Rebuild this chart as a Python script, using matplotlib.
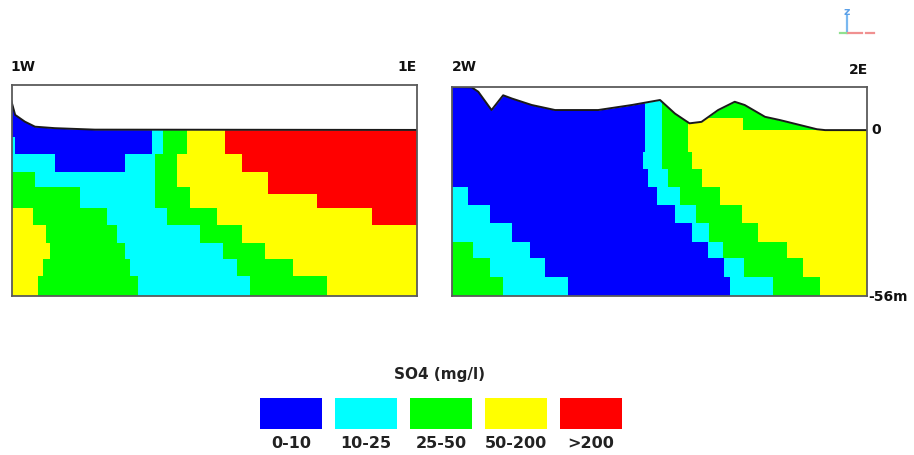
import matplotlib
matplotlib.use("Agg")
import numpy as np
import matplotlib.pyplot as plt
from matplotlib.colors import ListedColormap
from matplotlib.patches import Rectangle

# SO4 concentration classes (mg/l)
class_labels = ["0-10", "10-25", "25-50", "50-200", ">200"]
class_colors = ["#0000ff", "#00ffff", "#00ff00", "#ffff00", "#ff0000"]

# ---- Section 1W-1E : layer elevations (m), class runs per layer, run ends (% of section)
s1_levels = [15.2, -2.3, -8.0, -14.2, -19.3, -21.5, -26.4, -32.2, -38.4, -43.7, -49.4, -56.0]
s1_classes = [
    [0, 1, 2, 3, 4],
    [1, 0, 1, 2, 3, 4],
    [1, 0, 1, 2, 3, 4],
    [2, 1, 2, 3, 4],
    [2, 1, 2, 3, 4],
    [2, 1, 2, 3, 4],
    [3, 2, 1, 2, 3, 4],
    [3, 2, 1, 2, 3],
    [3, 2, 1, 2, 3],
    [3, 2, 1, 2, 3],
    [3, 2, 1, 2, 3],
]
s1_breaks = [
    [34.6, 37.5, 43.3, 52.7],
    [0.9, 34.6, 37.5, 43.3, 52.7],
    [10.7, 28.0, 35.4, 40.8, 56.8],
    [5.8, 35.4, 40.8, 63.4],
    [16.9, 35.4, 44.1, 63.4],
    [16.9, 35.4, 44.1, 75.4],
    [5.2, 23.5, 38.3, 50.7, 88.9],
    [8.5, 26.0, 46.6, 56.8],
    [9.5, 28.0, 52.1, 62.6],
    [7.9, 29.3, 55.6, 69.6],
    [6.6, 31.3, 58.9, 77.8],
]
s1_surface_x = [0, 0.9, 3.3, 5.8, 10.7, 20.6, 100]
s1_surface_z = [9.6, 5.1, 2.8, 1.1, 0.6, 0.1, 0.0]

# ---- Section 2W-2E
s2_levels = [14.6, 4.0, 0.0, -7.3, -13.0, -19.2, -25.4, -31.6, -37.8, -43.4, -49.6, -56.0]
s2_classes = [
    [0, 1, 2],
    [0, 1, 2, 3, 2],
    [0, 1, 2, 3],
    [0, 1, 2, 3],
    [0, 1, 2, 3],
    [1, 0, 1, 2, 3],
    [1, 0, 1, 2, 3],
    [1, 0, 1, 2, 3],
    [2, 1, 0, 1, 2, 3],
    [2, 1, 0, 1, 2, 3],
    [2, 1, 0, 1, 2, 3],
]
s2_breaks = [
    [46.6, 50.6],
    [46.6, 50.6, 57.0, 70.3],
    [46.6, 50.6, 57.0],
    [46.2, 50.6, 57.8],
    [47.4, 52.2, 60.2],
    [3.9, 49.4, 55.0, 64.7],
    [9.2, 53.8, 58.9, 69.9],
    [14.5, 57.8, 62.0, 73.9],
    [5.2, 18.9, 61.8, 65.4, 80.7],
    [9.2, 22.5, 65.6, 70.4, 84.7],
    [12.4, 28.1, 67.1, 77.5, 88.7],
]
s2_surface_x = [0, 4.8, 6.4, 9.6, 12.4, 14.5, 19.3, 24.9, 35.3, 43.4, 50.2,
                53.8, 57.3, 60.2, 64.2, 68.2, 70.6, 75.5, 79.1, 88.0, 90.0, 100]
s2_surface_z = [14.6, 14.5, 13.0, 6.8, 11.8, 10.7, 8.5, 6.8, 6.8, 8.5, 10.2,
                5.6, 2.3, 2.8, 6.8, 9.6, 8.5, 4.5, 3.4, 0.3, 0.0, 0.0]

cmap = ListedColormap(class_colors)


def class_grid(levels, classes, breaks):
    xedges = np.unique(np.concatenate([[0.0, 100.0]] + [np.asarray(b, float) for b in breaks]))
    centers = 0.5 * (xedges[:-1] + xedges[1:])
    grid = np.zeros((len(classes), len(centers)))
    for r, (cls, brk) in enumerate(zip(classes, breaks)):
        idx = np.searchsorted(np.asarray(brk, float), centers)
        grid[r] = np.asarray(cls)[idx]
    return xedges, np.asarray(levels, float), grid


def draw_section(ax, levels, classes, breaks, sx, sz):
    xe, ye, g = class_grid(levels, classes, breaks)
    ax.pcolormesh(xe, ye, g, cmap=cmap, vmin=-0.5, vmax=4.5,
                  shading="flat", antialiased=False, zorder=1)
    top = levels[0]
    ax.fill_between(sx, sz, top + 1, color="white", zorder=2, lw=0)
    ax.plot(sx, sz, color="#1a1a1a", lw=1.4, zorder=3, solid_joinstyle="round")
    ax.set_xlim(0, 100)
    ax.set_ylim(levels[-1], top)
    ax.set_xticks([])
    ax.set_yticks([])
    for sp in ax.spines.values():
        sp.set_color("#5a5a5a")
        sp.set_linewidth(1.3)
        sp.set_zorder(4)


W, H = 914, 455
fig = plt.figure(figsize=(W / 100, H / 100), dpi=100)
fig.patch.set_facecolor("white")


def px_axes(x0, y0, x1, y1):
    return fig.add_axes([x0 / W, 1 - y1 / H, (x1 - x0) / W, (y1 - y0) / H])


ax1 = px_axes(11.5, 85, 416.5, 295.5)
draw_section(ax1, s1_levels, s1_classes, s1_breaks, s1_surface_x, s1_surface_z)
ax2 = px_axes(451.7, 87, 866.7, 295.5)
draw_section(ax2, s2_levels, s2_classes, s2_breaks, s2_surface_x, s2_surface_z)

# Overlay in pixel units for labels, legend and orientation mark
ov = fig.add_axes([0, 0, 1, 1], zorder=10)
ov.set_xlim(0, W)
ov.set_ylim(H, 0)
ov.axis("off")
ov.patch.set_alpha(0)

lab = dict(fontsize=10, fontweight="bold", color="#111111", family="DejaVu Sans")
ov.text(10, 67, "1W", ha="left", va="center", **lab)
ov.text(417, 67, "1E", ha="right", va="center", **lab)
ov.text(452, 67, "2W", ha="left", va="center", **lab)
ov.text(868, 70, "2E", ha="right", va="center", **lab)
ov.text(871, 130, "0", ha="left", va="center", **lab)
ov.text(868, 297, "-56m", ha="left", va="center", **lab)

# Legend
ov.text(440, 375, "SO4 (mg/l)", ha="center", va="center",
        fontsize=11, fontweight="bold", color="#222222")
for i, (lbl, col) in enumerate(zip(class_labels, class_colors)):
    x0 = 260 + 75 * i
    ov.add_patch(Rectangle((x0, 398), 62, 31, facecolor=col, edgecolor="none"))
    ov.text(x0 + 31, 443, lbl, ha="center", va="center",
            fontsize=11.5, fontweight="bold", color="#222222")

# Orientation mark (z up, x east)
ov.plot([846.5, 846.5], [16, 33], color="#7ab8f0", lw=1.6)
ov.text(846.5, 12, "z", ha="center", va="center", fontsize=8, color="#5aa0e8",
        fontweight="bold")
ov.plot([848, 862], [33.3, 33.3], color="#f09090", lw=1.6)
ov.plot([866, 874], [33.3, 33.3], color="#f09090", lw=1.6)
ov.plot([840, 846], [33.3, 33.3], color="#90e090", lw=1.6)

fig.savefig("out.png", dpi=100, facecolor="white")
